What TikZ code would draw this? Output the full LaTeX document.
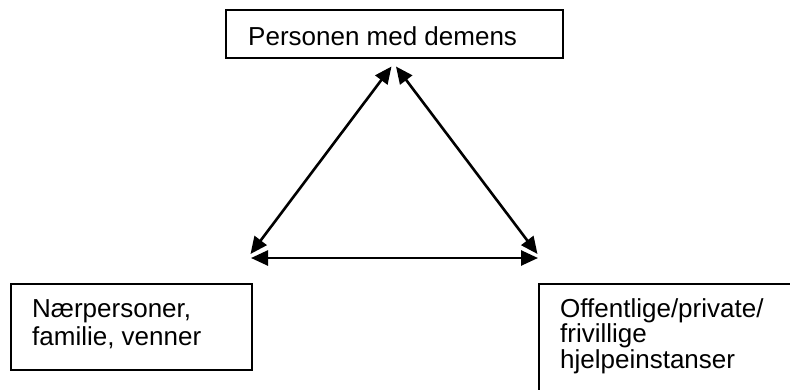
\documentclass[tikz,border=0pt]{standalone}
\usepackage{fontspec}
\setmainfont{Liberation Sans}
\usetikzlibrary{arrows.meta}
\tikzset{
  box/.style={draw=black, line width=2pt, rectangle, inner sep=0pt, anchor=north west},
  lbl/.style={anchor=base west, inner sep=0pt, align=left, font=\fontsize{26}{28}\selectfont},
  conn/.style={line width=2.6pt, {Triangle[length=17pt,width=15pt]}-{Triangle[length=17pt,width=15pt]}}
}
\begin{document}
\begin{tikzpicture}[x=1pt,y=-1pt]
\clip (0,0) rectangle (790,389);
\fill[white] (0,0) rectangle (790,389);
% boxes
\node[box, minimum width=337pt, minimum height=48pt] (topbox) at (225,9) {};
\node[box, minimum width=241pt, minimum height=86pt] (leftbox) at (9.5,283) {};
\node[box, minimum width=270pt, minimum height=130pt] (rightbox) at (538,283) {};
% texts (base = last line)
\node[lbl] (toptext) at (248,45) {Personen med demens};
\node[lbl] (lefttext) at (32,345) {Nærpersoner,\\familie, venner};
\node[lbl, font=\fontsize{26}{25.5}\selectfont] (righttext) at (560,368) {Offentlige/private/\\frivillige\\hjelpeinstanser};
% arrow end points
\coordinate (apexL) at (391.5,66.5);
\coordinate (apexR) at (396,66.5);
\coordinate (botL) at (250.5,254);
\coordinate (botR) at (537.5,254);
\coordinate (hL) at (251,258);
\coordinate (hR) at (538,258);
\draw[conn] (botL) -- (apexL);
\draw[conn] (botR) -- (apexR);
\draw[conn] (hL) -- (hR);
\end{tikzpicture}
\end{document}
